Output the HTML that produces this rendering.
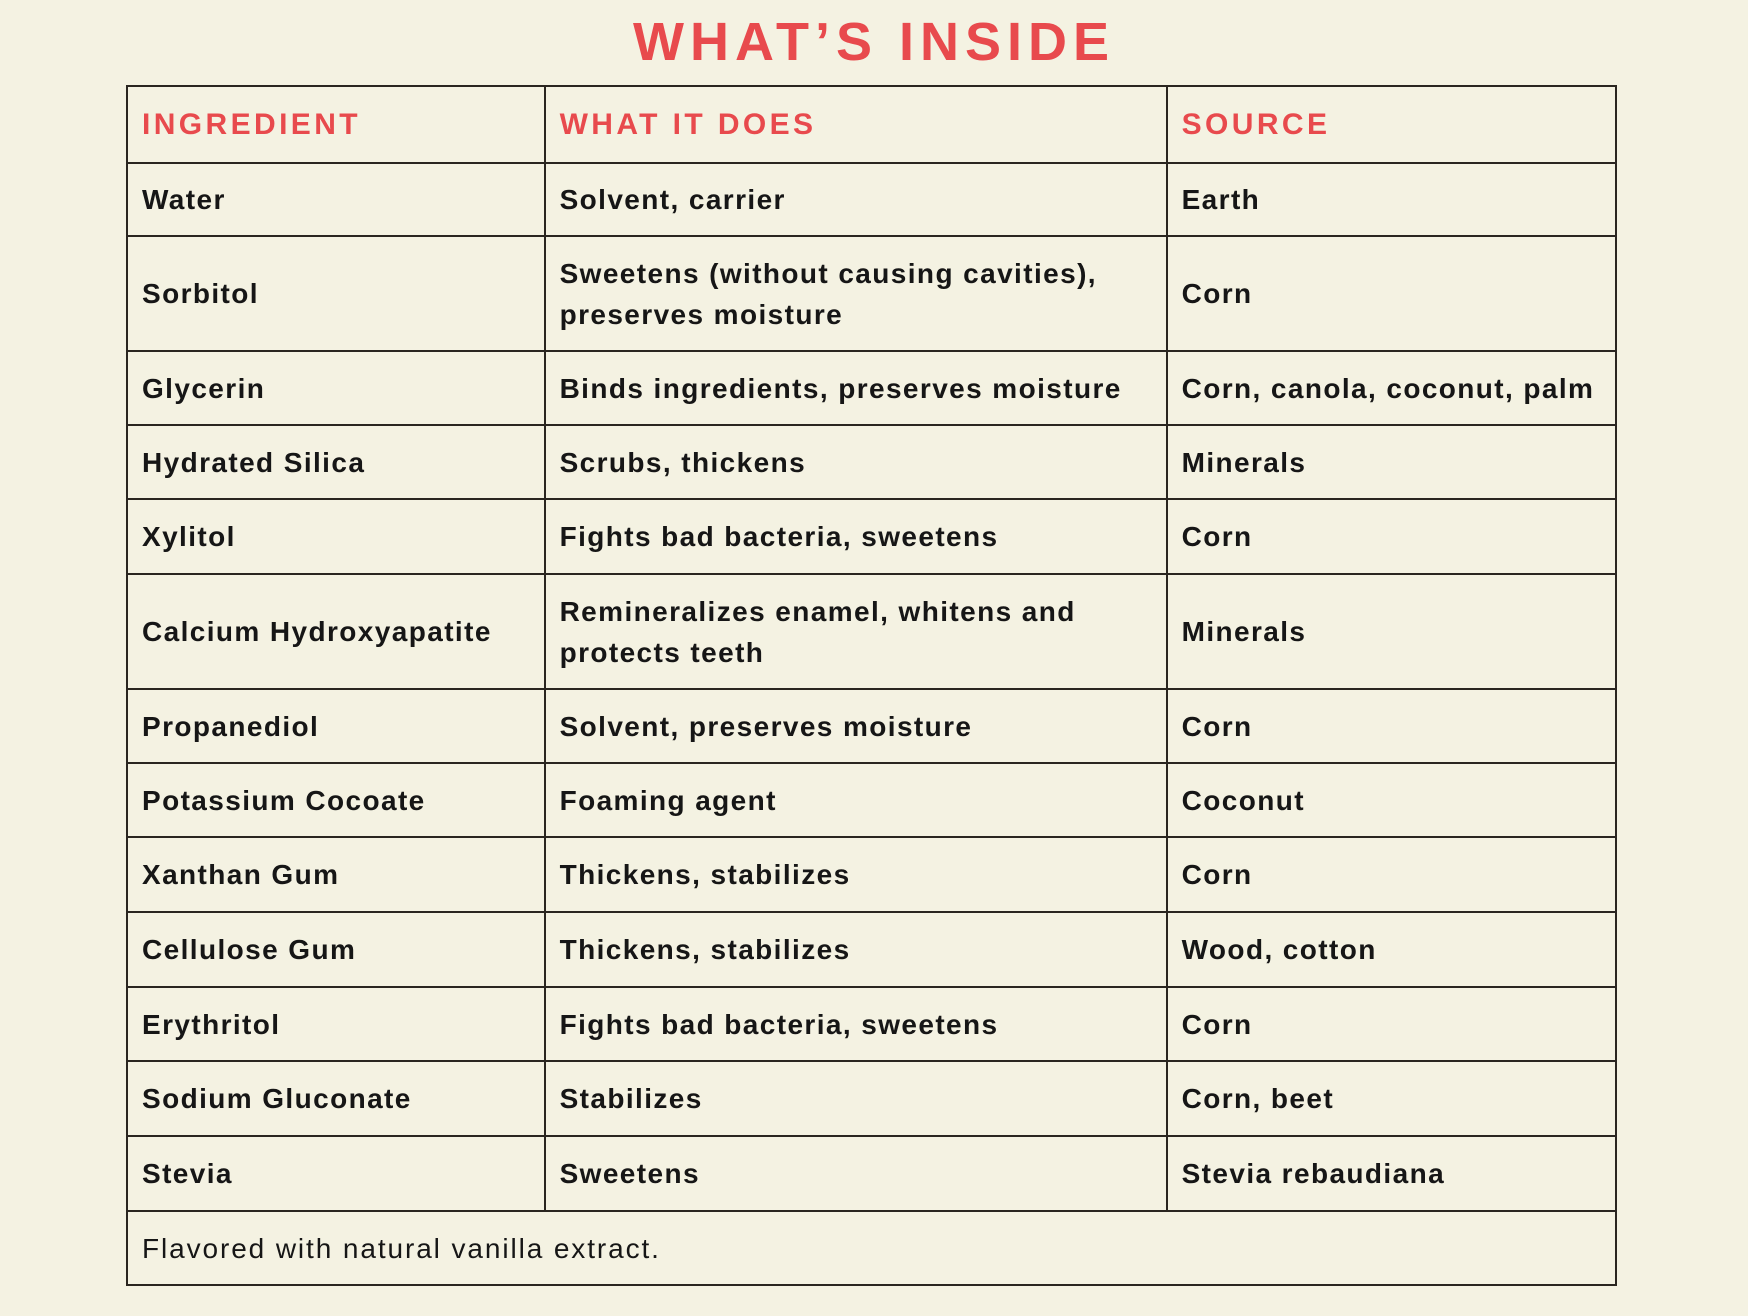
<!DOCTYPE html>
<html><head><meta charset="utf-8"><style>
html,body{margin:0;padding:0;}
body{width:1748px;height:1316px;background:#f4f2e2;position:relative;overflow:hidden;font-family:"Liberation Sans",sans-serif;}
h1{position:absolute;left:0;width:1748px;top:10px;margin:0;text-align:center;color:#e84a4d;font-size:54px;font-weight:bold;letter-spacing:6px;line-height:64px;}
table{position:absolute;left:126px;top:85px;width:1491px;border-collapse:collapse;}
td{border:2px solid #2a2620;padding:0 0 0 14px;font-size:28px;font-weight:bold;color:#161616;line-height:41px;vertical-align:middle;letter-spacing:1.4px;}
tr.h td{color:#e84a4d;font-weight:bold;font-size:30px;letter-spacing:3.4px;}
td.f{font-weight:normal;letter-spacing:1.9px;}
</style></head><body>
<h1>WHAT’S INSIDE</h1>
<table>
<colgroup><col style="width:418px"><col style="width:623px"><col style="width:450px"></colgroup>
<tr class="h" style="height:77px"><td>INGREDIENT</td><td>WHAT IT DOES</td><td>SOURCE</td></tr>
<tr style="height:73px"><td>Water</td><td>Solvent, carrier</td><td>Earth</td></tr>
<tr style="height:115px"><td>Sorbitol</td><td>Sweetens (without causing cavities),<br>preserves moisture</td><td>Corn</td></tr>
<tr style="height:74px"><td>Glycerin</td><td>Binds ingredients, preserves moisture</td><td>Corn, canola, coconut, palm</td></tr>
<tr style="height:74px"><td>Hydrated Silica</td><td>Scrubs, thickens</td><td>Minerals</td></tr>
<tr style="height:75px"><td>Xylitol</td><td>Fights bad bacteria, sweetens</td><td>Corn</td></tr>
<tr style="height:115px"><td>Calcium Hydroxyapatite</td><td>Remineralizes enamel, whitens and<br>protects teeth</td><td>Minerals</td></tr>
<tr style="height:74px"><td>Propanediol</td><td>Solvent, preserves moisture</td><td>Corn</td></tr>
<tr style="height:74px"><td>Potassium Cocoate</td><td>Foaming agent</td><td>Coconut</td></tr>
<tr style="height:75px"><td>Xanthan Gum</td><td>Thickens, stabilizes</td><td>Corn</td></tr>
<tr style="height:75px"><td>Cellulose Gum</td><td>Thickens, stabilizes</td><td>Wood, cotton</td></tr>
<tr style="height:74px"><td>Erythritol</td><td>Fights bad bacteria, sweetens</td><td>Corn</td></tr>
<tr style="height:75px"><td>Sodium Gluconate</td><td>Stabilizes</td><td>Corn, beet</td></tr>
<tr style="height:75px"><td>Stevia</td><td>Sweetens</td><td>Stevia rebaudiana</td></tr>
<tr style="height:74px"><td class="f" colspan="3">Flavored with natural vanilla extract.</td></tr>
</table>
</body></html>
